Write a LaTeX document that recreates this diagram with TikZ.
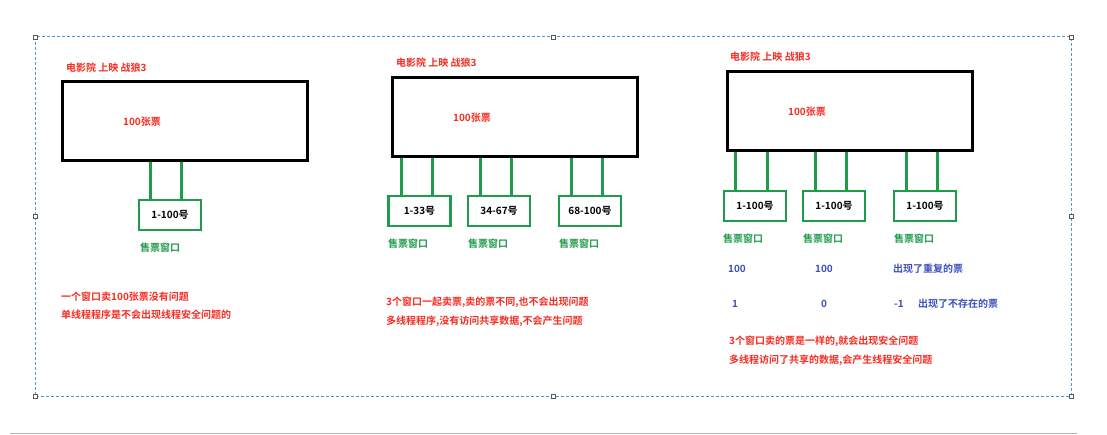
\documentclass[tikz,border=0pt]{standalone}
\usepackage{fontspec}
\setmainfont{Noto Sans CJK SC}[BoldFont={Noto Sans CJK SC Bold}]
\definecolor{tred}{RGB}{245,45,35}
\definecolor{tgreen}{RGB}{30,155,75}
\definecolor{tblue}{RGB}{60,80,190}
\definecolor{selblue}{RGB}{80,150,215}
\tikzset{
  cinema/.style={draw=black, line width=3pt, minimum width=245pt, minimum height=79pt, inner sep=0pt},
  window/.style={draw=tgreen, line width=2.8pt, minimum width=62pt, minimum height=30pt, inner sep=0pt,
                 font=\fontsize{10}{12}\selectfont\bfseries, text=black},
  leg/.style={draw=tgreen, line width=2.8pt},
  title/.style={anchor=west, inner sep=0pt, text=tred, font=\fontsize{10}{12}\selectfont\bfseries},
  count/.style={inner sep=0pt, text=tred, font=\fontsize{10}{12}\selectfont\bfseries},
  wlabel/.style={inner sep=0pt, text=tgreen, font=\fontsize{10}{12}\selectfont\bfseries},
  note/.style={anchor=west, inner sep=0pt, text=tred, font=\fontsize{10}{12}\selectfont\bfseries},
  bnote/.style={inner sep=0pt, text=tblue, font=\fontsize{10}{12}\selectfont\bfseries},
  frame/.style={draw=selblue, line width=1pt, dash pattern=on 3pt off 2pt},
  handle/.style={draw=gray!70!black, fill=white, line width=0.6pt, minimum size=4pt, inner sep=0pt}
}
\begin{document}
\begin{tikzpicture}[x=1pt, y=-1pt]
\useasboundingbox (0,0) rectangle (1107,435);
\fill[white] (0,0) rectangle (1107,435);

% selection frame with its handles
\draw[frame] (35,37) rectangle (1071,396);
\foreach \hx/\hy/\hn in {35/37/h1, 553/37/h2, 1071/37/h3, 35/216/h4, 1071/216/h5, 35/396/h6, 553/396/h7, 1071/396/h8}
  \node[handle] (\hn) at (\hx,\hy) {};
\draw[gray!60, line width=1pt] (10,433) -- (1077,433);

% ---- one window ----
\node[title] (t1) at (66,68) {电影院 上映 战狼3};
\node[cinema] (c1) at (185,121.5) {};
\node[count] (n1) at (142,122) {100张票};
\node[window] (w11) at (170,215) {1-100号};
\coordinate (a11) at ([xshift=13pt]w11.north west);
\coordinate (b11) at ([xshift=44pt]w11.north west);
\draw[leg] (a11) -- (a11 |- c1.south);
\draw[leg] (b11) -- (b11 |- c1.south);
\node[wlabel] (s11) at (160,248) {售票窗口};
\node[note] (m11) at (61,297) {一个窗口卖100张票没有问题};
\node[note] (m12) at (61,315) {单线程程序是不会出现线程安全问题的};

% ---- three windows, separate ranges ----
\node[title] (t2) at (396,63) {电影院 上映 战狼3};
\node[cinema] (c2) at (514.5,117.5) {};
\node[count] (n2) at (472,118) {100张票};
\foreach \i/\cx/\txt in {1/419.5/1-33号, 2/499/34-67号, 3/590/68-100号}{
  \node[window] (w2\i) at (\cx,211) {\txt};
  \coordinate (a2\i) at ([xshift=14pt]w2\i.north west);
  \coordinate (b2\i) at ([xshift=45pt]w2\i.north west);
  \draw[leg] (a2\i) -- (a2\i |- c2.south);
  \draw[leg] (b2\i) -- (b2\i |- c2.south);
}
\node[wlabel] (s21) at (408,244) {售票窗口};
\node[wlabel] (s22) at (488,244) {售票窗口};
\node[wlabel] (s23) at (579,244) {售票窗口};
\node[note] (m21) at (386,302) {3个窗口一起卖票,卖的票不同,也不会出现问题};
\node[note] (m22) at (386,321) {多线程程序,没有访问共享数据,不会产生问题};

% ---- three windows, shared range ----
\node[title] (t3) at (730,57) {电影院 上映 战狼3};
\node[cinema] (c3) at (849.5,111.5) {};
\node[count] (n3) at (807,112) {100张票};
\foreach \i/\cx/\off in {1/755/13, 2/834/14, 3/925/14}{
  \node[window] (w3\i) at (\cx,206) {1-100号};
  \coordinate (a3\i) at ([xshift=\off pt]w3\i.north west);
  \coordinate (b3\i) at ([xshift=45pt]w3\i.north west);
  \draw[leg] (a3\i) -- (a3\i |- c3.south);
  \draw[leg] (b3\i) -- (b3\i |- c3.south);
}
\node[wlabel] (s31) at (743,239) {售票窗口};
\node[wlabel] (s32) at (823,239) {售票窗口};
\node[wlabel] (s33) at (914,239) {售票窗口};

\node[bnote] (v11) at (737,269) {100};
\node[bnote] (v12) at (824,269) {100};
\node[bnote, anchor=west] (v13) at (893,269) {出现了重复的票};
\node[bnote] (v21) at (735,304) {1};
\node[bnote] (v22) at (824,304) {0};
\node[bnote] (v23) at (899,304) {-1};
\node[bnote, anchor=west] (v24) at (918,304) {出现了不存在的票};

\node[note] (m31) at (729,341) {3个窗口卖的票是一样的,就会出现安全问题};
\node[note] (m32) at (729,360) {多线程访问了共享的数据,会产生线程安全问题};
\end{tikzpicture}
\end{document}
